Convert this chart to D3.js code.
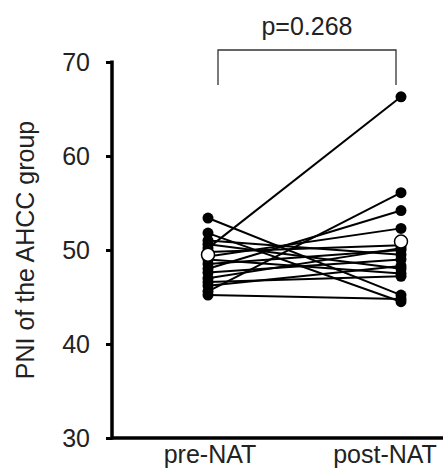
<!DOCTYPE html>
<html><head><meta charset="utf-8">
<script src="https://cdn.jsdelivr.net/npm/d3@7"></script>
<style>body{margin:0;background:#fff}svg{display:block}text{font-family:"Liberation Sans",Arial,sans-serif;fill:#222}</style>
</head><body><svg id="c" width="443" height="475"></svg>
<script>
const categories = ["pre-NAT", "post-NAT"];
const preValues  = [53.4, 51.8, 51.0, 50.6, 50.2, 49.8, 49.3, 49.0, 48.5, 48.0, 47.6, 47.0, 46.6, 46.2, 45.6, 45.2];
const postValues = [45.2, 44.5, 49.5, 48.0, 66.3, 50.5, 52.3, 47.5, 50.0, 54.2, 49.0, 50.2, 47.2, 48.3, 56.1, 44.8];
const meanValues = [49.5, 50.9];
const yTicks = [30, 40, 50, 60, 70];
const pText = "p=0.268";
const yTitle = "PNI of the AHCC group";

const svg = d3.select("#c");
const y = d3.scaleLinear().domain([30, 70]).range([438, 62]);
const x = d3.scalePoint().domain(categories).range([208, 401]);
const axisX = 112;

// y axis
const ya = svg.append("g").attr("transform", `translate(${axisX},0)`)
  .call(d3.axisLeft(y).tickValues(yTicks).tickSize(6).tickPadding(16));
ya.select(".domain").remove();
ya.selectAll(".tick line").attr("stroke", "#000").attr("stroke-width", 3);
ya.selectAll(".tick text").style("font-size", "25px").attr("fill", "#222");
svg.append("line").attr("x1", axisX).attr("x2", axisX).attr("y1", y(70) - 1.5).attr("y2", y(30) + 1.5)
  .attr("stroke", "#000").attr("stroke-width", 3.5);
// x axis
svg.append("line").attr("x1", axisX).attr("x2", 443).attr("y1", y(30)).attr("y2", y(30))
  .attr("stroke", "#000").attr("stroke-width", 3.5);

// category labels
svg.selectAll(".cat").data(categories).join("text").attr("class", "cat")
  .attr("x", (d, i) => x(d) + (i === 0 ? 2 : -16)).attr("y", 463)
  .attr("text-anchor", "middle").style("font-size", "25px").text(d => d);

// y title
svg.append("text").attr("transform", `translate(34,${(380 + 120) / 2}) rotate(-90)`)
  .attr("text-anchor", "middle").style("font-size", "25px").text(yTitle);

// pair lines
const pairs = preValues.map((v, i) => [v, postValues[i]]);
svg.selectAll(".pair").data(pairs).join("line").attr("class", "pair")
  .attr("x1", x(categories[0])).attr("x2", x(categories[1]))
  .attr("y1", d => y(d[0])).attr("y2", d => y(d[1]))
  .attr("stroke", "#000").attr("stroke-width", 2);
svg.selectAll(".pre").data(preValues).join("circle").attr("class", "pre")
  .attr("cx", x(categories[0])).attr("cy", d => y(d)).attr("r", 5.5).attr("fill", "#000");
svg.selectAll(".post").data(postValues).join("circle").attr("class", "post")
  .attr("cx", x(categories[1])).attr("cy", d => y(d)).attr("r", 5.5).attr("fill", "#000");
svg.selectAll(".mean").data(meanValues).join("circle").attr("class", "mean")
  .attr("cx", (d, i) => x(categories[i])).attr("cy", d => y(d)).attr("r", 6.5)
  .attr("fill", "#fff").attr("stroke", "#000").attr("stroke-width", 1.5);

// significance bracket
const bx1 = x(categories[0]) + 10, bx2 = x(categories[1]) - 5;
svg.append("path").attr("d", `M${bx1},85V50H${bx2}V85`).attr("fill", "none")
  .attr("stroke", "#333").attr("stroke-width", 1.3);
svg.append("text").attr("x", (bx1 + bx2) / 2).attr("y", 35).attr("text-anchor", "middle")
  .style("font-size", "25px").text(pText);
</script></body></html>
